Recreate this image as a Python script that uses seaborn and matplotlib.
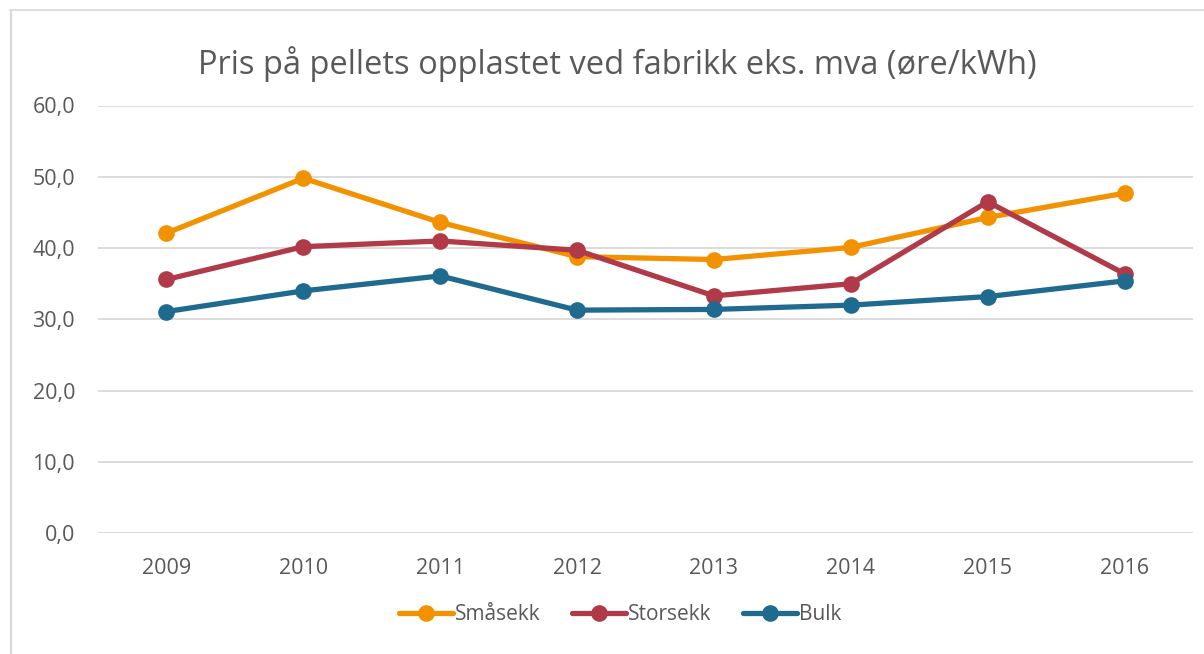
import matplotlib
matplotlib.use("Agg")
import matplotlib.pyplot as plt
from matplotlib.lines import Line2D
import seaborn as sns
import pandas as pd

years = [2009, 2010, 2011, 2012, 2013, 2014, 2015, 2016]
smasekk = [42.1, 49.8, 43.6, 38.8, 38.4, 40.1, 44.3, 47.7]
storsekk = [35.6, 40.2, 41.0, 39.7, 33.3, 35.0, 46.5, 36.4]
bulk = [31.1, 34.0, 36.1, 31.3, 31.4, 32.0, 33.2, 35.4]
series_names = ["Småsekk", "Storsekk", "Bulk"]
colors = ["#F39200", "#B03A48", "#1F6A8F"]
yticks = [0, 10, 20, 30, 40, 50, 60]
title = "Pris på pellets opplastet ved fabrikk eks. mva (øre/kWh)"

rows = []
for name, vals in zip(series_names, [smasekk, storsekk, bulk]):
    for y, v in zip(years, vals):
        rows.append({"År": y, "Pris": v, "Serie": name})
df = pd.DataFrame(rows)

sns.set_theme(style="white")
plt.rcParams['font.family'] = ['Open Sans', 'DejaVu Sans']
text_color = "#595959"

fig = plt.figure(figsize=(12.04, 6.54), dpi=100)
ax = fig.add_axes([98/1204, 1-533.3/654, (1193-98)/1204, (533.3-105.5)/654])

sns.lineplot(data=df, x="År", y="Pris", hue="Serie", hue_order=series_names,
             palette=colors, marker="o", markersize=12, markeredgewidth=0,
             linewidth=3.8, ax=ax, legend=False, zorder=3)

ax.set_xlim(years[0]-0.5, years[-1]+0.5)
ax.set_ylim(0, 60)
ax.set_yticks(yticks)
ax.set_yticklabels([f"{t:.1f}".replace(".", ",") for t in yticks])
ax.set_xticks(years)
ax.set_xticklabels([str(y) for y in years])
ax.tick_params(axis='both', length=0, labelsize=15.5, labelcolor=text_color)
ax.tick_params(axis='y', pad=16.5)
ax.tick_params(axis='x', pad=17.5)
ax.grid(axis='y', color="#D9D9D9", linewidth=1.3)
ax.set_axisbelow(True)
for s in ax.spines.values():
    s.set_visible(False)
ax.set_xlabel("")
ax.set_ylabel("")

fig.text(0.5127, 1-64/654, title, ha="center", va="center", fontsize=23.5, color=text_color)

handles = [Line2D([0], [0], color=c, linewidth=3.8, marker="o", markersize=12,
                  markeredgewidth=0) for c in colors]
fig.legend(handles, series_names, loc="center", bbox_to_anchor=(0.515, 1-615/654),
           ncol=3, frameon=False, fontsize=15, labelcolor=text_color,
           handlelength=2.6, handletextpad=0.1, columnspacing=1.5)

fig.add_artist(Line2D([10/1204, 1], [1-10/654, 1-10/654], color="#D9D9D9", linewidth=1.2, transform=fig.transFigure))
fig.add_artist(Line2D([10.5/1204, 10.5/1204], [0, 1-10/654], color="#D9D9D9", linewidth=1.6, transform=fig.transFigure))

fig.savefig("out.png", dpi=100, facecolor="white")
